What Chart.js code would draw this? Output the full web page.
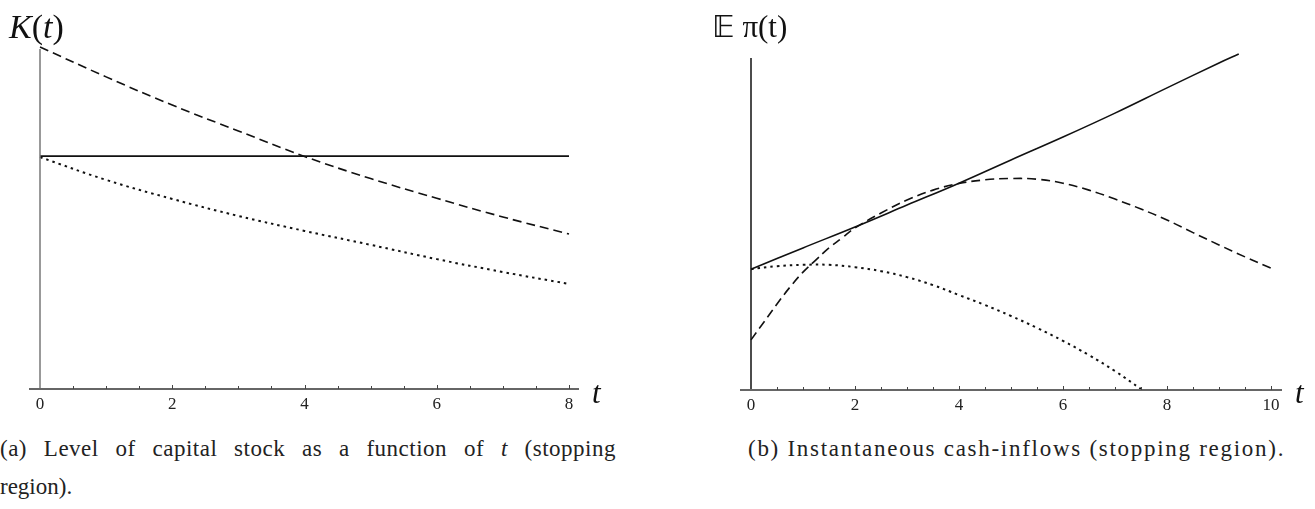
<!DOCTYPE html>
<html>
<head>
<meta charset="utf-8">
<script src="https://cdn.jsdelivr.net/npm/chart.js@4.4.1/dist/chart.umd.min.js"></script>
<style>
  body { margin: 0; background: #fff; width: 1315px; height: 509px; overflow: hidden; position: relative; }
  .box { position: absolute; }
  .lbl { position: absolute; font-family: "Liberation Serif", "DejaVu Serif", serif; color: #111; white-space: nowrap; line-height: 1; }
  .cap { position: absolute; font-family: "Liberation Serif", "DejaVu Serif", serif; font-size: 23px; color: #222; line-height: 1; white-space: nowrap; }
</style>
</head>
<body>
<div class="box" style="left:0;top:0;width:620px;height:430px"><canvas id="chartK"></canvas></div>
<div class="box" style="left:700px;top:0;width:615px;height:430px"><canvas id="chartPi"></canvas></div>

<div class="lbl" style="left:9px;top:10px;font-size:34px"><i>K</i>(<i>t</i>)</div>
<div class="lbl" style="left:592px;top:377px;font-size:31px"><i>t</i></div>
<div class="lbl" style="left:712px;top:11px;font-size:31px"><span style="font-family:'DejaVu Sans'">𝔼</span> π(t)</div>
<div class="lbl" style="left:1295px;top:377px;font-size:31px"><i>t</i></div>

<div class="cap" id="capA1" style="left:0;top:437px;width:616px;text-align:justify;text-align-last:justify">(a) Level of capital stock as a function of <i>t</i> (stopping</div>
<div class="cap" style="left:0;top:475px">region).</div>
<div class="cap" id="capB" style="left:748px;top:437px">(b) Instantaneous cash-inflows (stopping region).</div>

<script>
// left panel: capital stock K(t)
const tK = [0, 1, 2, 3, 4, 5, 6, 7, 8];
const kSolid = [6.85, 6.85, 6.85, 6.85, 6.85, 6.85, 6.85, 6.85, 6.85];
const kDashed = [10.06, 9.18, 8.35, 7.59, 6.84, 6.19, 5.61, 5.06, 4.56];
const kDotted = [6.82, 6.15, 5.59, 5.09, 4.65, 4.24, 3.82, 3.44, 3.09];
const kTicks = [0, 2, 4, 6, 8];

// right panel: expected cash inflows E pi(t)
const tPiSolid = [0, 1, 2, 3, 4, 5, 6, 7, 8, 9, 9.38];
const piSolid = [3.64, 4.28, 4.91, 5.57, 6.23, 6.93, 7.62, 8.34, 9.10, 9.85, 10.12];
const tPiDashed = [0, 0.25, 0.5, 0.75, 1, 1.25, 1.5, 1.75, 2, 2.5, 3, 3.5, 4, 4.5, 5, 5.5, 6, 6.5, 7, 7.5, 8, 8.5, 9, 9.5, 10];
const piDashed = [1.51, 2.05, 2.59, 3.10, 3.55, 3.92, 4.28, 4.58, 4.88, 5.33, 5.72, 6.02, 6.22, 6.33, 6.37, 6.35, 6.23, 6.02, 5.75, 5.45, 5.12, 4.74, 4.37, 4.01, 3.67];
const tPiDotted = [0, 0.5, 1, 1.5, 2, 2.5, 3, 3.5, 4, 4.5, 5, 5.5, 6, 6.5, 7, 7.5];
const piDotted = [3.64, 3.73, 3.77, 3.77, 3.70, 3.58, 3.40, 3.16, 2.86, 2.56, 2.23, 1.87, 1.48, 1.05, 0.57, 0.03];
const piTicks = [0, 2, 4, 6, 8, 10];

function pts(xs, ys) {
    return xs.map((x, i) => ({ x: x, y: ys[i] }));
}

function line(data, dash, width) {
    return {
        data: data,
        borderColor: '#111',
        borderWidth: width,
        borderDash: dash,
        pointRadius: 0,
        fill: false,
        tension: 0.4,
        clip: false
    };
}

// axes drawn by hand so ticks point inward like the original
const axesPlugin = {
    id: 'axes',
    afterDraw(chart, args, opts) {
        const ctx = chart.ctx;
        const xs = chart.scales.x;
        const ys = chart.scales.y;
        const x0 = xs.getPixelForValue(0);
        const yb = ys.getPixelForValue(0);
        ctx.save();
        // y axis
        ctx.strokeStyle = opts.yColor;
        ctx.lineWidth = 1.5;
        ctx.beginPath();
        ctx.moveTo(x0, yb);
        ctx.lineTo(x0, ys.getPixelForValue(ys.max));
        ctx.stroke();
        // x axis
        ctx.strokeStyle = '#666';
        ctx.lineWidth = 2;
        ctx.beginPath();
        ctx.moveTo(xs.left - opts.extL, yb);
        ctx.lineTo(xs.right + opts.extR, yb);
        ctx.stroke();
        // minor ticks every 0.5
        ctx.lineWidth = 1;
        ctx.strokeStyle = '#444';
        for (let v = 0.5; v <= xs.max + 1e-9; v += 0.5) {
            const px = Math.round(xs.getPixelForValue(v)) + 0.5;
            ctx.beginPath();
            ctx.moveTo(px, yb);
            ctx.lineTo(px, yb - (v % 2 === 0 ? 4 : 3));
            ctx.stroke();
        }
        // tick labels
        ctx.fillStyle = '#222';
        ctx.font = '17px "Liberation Serif", serif';
        ctx.textAlign = 'center';
        ctx.textBaseline = 'middle';
        xs.ticks.forEach(t => {
            ctx.fillText(String(t.value), xs.getPixelForValue(t.value), yb + 16);
        });
        ctx.restore();
    }
};

function makeChart(id, xMax, ticks, datasets, pad, yColor, extL, extR) {
    return new Chart(document.getElementById(id), {
        type: 'line',
        data: { datasets: datasets },
        options: {
            responsive: true,
            maintainAspectRatio: false,
            animation: false,
            layout: { padding: pad },
            plugins: {
                legend: { display: false },
                tooltip: { enabled: false },
                axes: { yColor: yColor, extL: extL, extR: extR }
            },
            scales: {
                x: {
                    type: 'linear',
                    min: 0,
                    max: xMax,
                    afterBuildTicks: s => { s.ticks = ticks.map(v => ({ value: v })); },
                    afterFit: s => { s.height = 30; },
                    grid: { display: false, drawTicks: false },
                    border: { display: false },
                    ticks: { display: false }
                },
                y: {
                    display: false,
                    min: 0,
                    max: 10
                }
            }
        },
        plugins: [axesPlugin]
    });
}

makeChart('chartK', 8, kTicks, [
    line(pts(tK, kSolid), [], 1.6),
    line(pts(tK, kDashed), [9, 5], 1.6),
    line(pts(tK, kDotted), [2.5, 4], 2)
], { left: 40, right: 51, top: 49, bottom: 11 }, '#777', 11, 10);

makeChart('chartPi', 10, piTicks, [
    line(pts(tPiSolid, piSolid), [], 1.6),
    line(pts(tPiDashed, piDashed), [9, 5], 1.6),
    line(pts(tPiDotted, piDotted), [2.5, 4], 2)
], { left: 51, right: 44, top: 58, bottom: 10 }, '#111', 11, 11);

// stretch caption (b) to the width it has in the original
const capB = document.getElementById('capB');
const natural = capB.getBoundingClientRect().width;
const n = capB.textContent.length;
capB.style.letterSpacing = ((537 - natural) / n).toFixed(2) + 'px';
document.getElementById('capA1').style.letterSpacing = '0.5px';
</script>
</body>
</html>
